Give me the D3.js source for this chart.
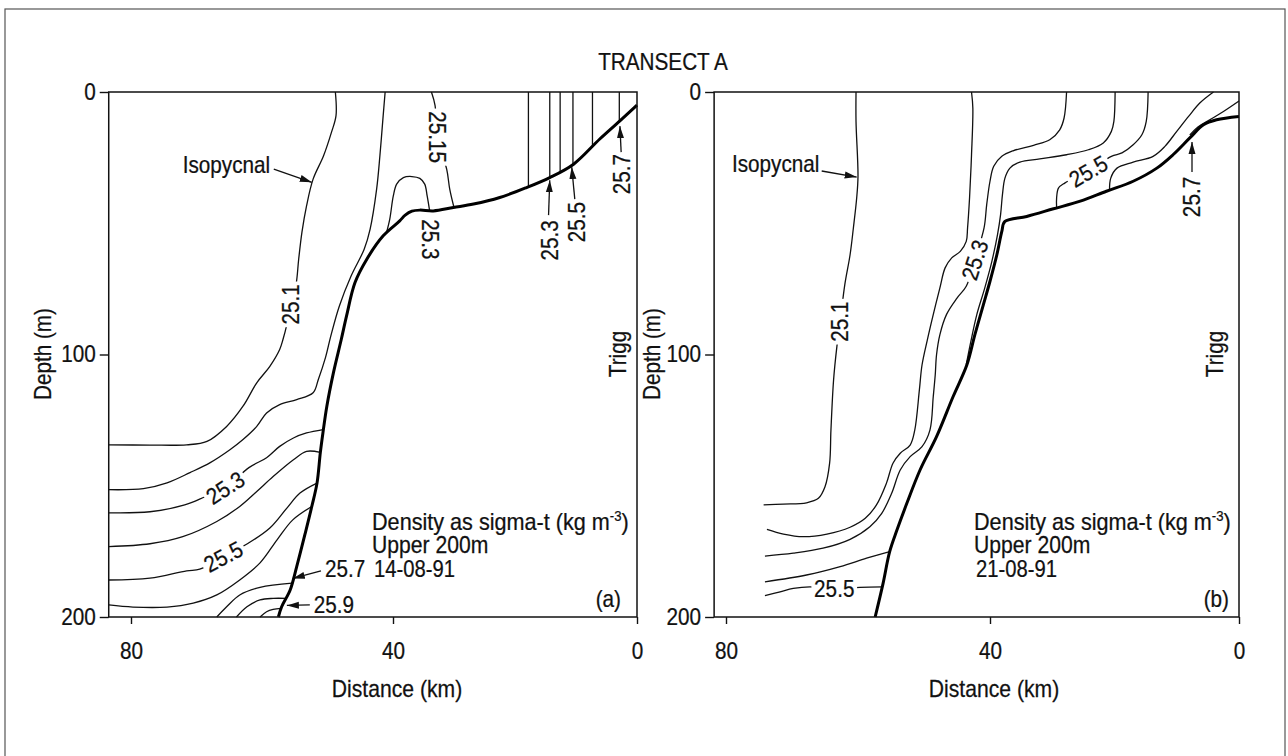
<!DOCTYPE html>
<html>
<head>
<meta charset="utf-8">
<script src="https://cdn.jsdelivr.net/npm/d3@7"></script>
<style>
  body { margin: 0; background: #fff; }
  svg text { font-family: "Liberation Sans", Arial, Helvetica, sans-serif; font-size: 23px; fill: #111; stroke: #111; stroke-width: 0.25px; }
</style>
</head>
<body>
<svg id="chart" width="1288" height="756"></svg>
<script>
// axis ticks
const kmTicks = [80, 40, 0];
const depthTicks = [0, 100, 200];

// ---- panel (a) 14-08-91 : [distance km, depth m] ----
const bathyA = [[0,5],[2.8,11],[6.1,17.9],[10.4,27.5],[14.3,32.6],[18.1,36.4],[22.5,40.2],[26.8,42.7],[30.1,44],[33.4,45.3],[35.6,45],[36.9,45.4],[38,46.9],[38.9,49.1],[41.5,54.8],[44,63.7],[45.8,72.6],[47.1,85.4],[47.9,94.3],[49.1,107],[50.1,119.7],[50.7,129.9],[51.1,137.5],[51.6,149],[52.4,157.9],[53.4,168.1],[54.7,180.8],[55.7,189.7],[57,196.1],[57.5,200]];
const isoA251 = [[48.8,0],[48.7,9],[49.4,15.4],[50.6,24.3],[52.2,33.2],[53.2,43.4],[53.9,53.4],[54.4,63.7],[54.8,73.3],[55.6,80.9],[56.2,88.5],[56.8,94.3],[57.3,98.1],[58.8,104.5],[60.8,110.8],[62.9,119.7],[65.4,127.4],[68.4,133.1],[71.5,134.4],[77.1,134.5],[83.4,134.4]];
const isoA252 = [[41.2,0],[41.5,9],[42,24.3],[42.5,37],[43.5,52.3],[44.4,59.9],[46.4,70.1],[48.2,81.6],[49.5,93],[50.3,101.1],[51.4,109.5],[52.2,114.6],[54.7,117.2],[57.3,119.1],[59.3,122.3],[60.8,127.4],[62.9,132.4],[64.9,136.3],[67.9,141.2],[71,145],[74.5,148.9],[78.1,151.1],[83.4,151.5]];
const isoA253 = [[83.4,160.3],[77.1,159.9],[71.8,157.3],[68.7,154.2],[65.6,150.8],[62,143.1],[59.3,139.3],[57.3,135],[55.2,131.8],[53.2,129.9],[50.65,128.6]];
const isoA254 = [[83.4,173.2],[77.1,172.1],[72.1,169.4],[66.9,163.6],[63.4,157.9],[60.8,152.2],[58.3,146.5],[55.2,140.1],[53.2,136.9],[51.1,137.3]];
const isoA255 = [[83.4,185.9],[77.1,185.2],[71.5,182.4],[69.5,181.8],[65.9,177],[62.1,171.9],[58.8,166.1],[56.2,158.5],[54.2,152.8],[51.6,149]];
const isoA256 = [[83.4,195.4],[79.7,196.2],[74.5,196.2],[70.5,194.7],[66.9,191.6],[63.4,185.9],[60.3,179.4],[57.7,170.6],[55.3,163],[52.4,157.9]];
const isoA257 = [[66.9,200],[65.4,196.1],[63.4,191.6],[60.3,188.7],[55.4,187.1]];
const isoA258 = [[63.9,200],[62.3,196.1],[60.3,193.5],[58.3,192.9],[56.35,192.9]];
const isoA259 = [[60.3,200],[59.3,198],[58.3,197.1],[57.05,196.7]];
const isoA2515 = [[33.7,0],[33.1,5.2],[32.8,17.2],[31.2,29.4],[30.7,37],[30,44]];
const isoA253bump = [[41,53.6],[40.5,48.5],[39.95,39.6],[39.4,35.1],[38.3,32.6],[36.9,32.2],[35.6,32.9],[34.8,35.1],[34.4,39.6],[34,45.2]];
// near-shore vertical isopycnals: [km, depth where they meet the bottom]
const vertA = [[17.8,36.1],[14.3,32.6],[12.6,30.4],[10.5,27.6],[7.3,20.6],[2.9,11.2]];

// ---- panel (b) 21-08-91 ----
const bathyB = [[0,9.3],[3.6,10.6],[5.7,12.5],[7.9,17.5],[10.6,23.9],[13.2,29],[17,34],[21.3,37.8],[25.5,41.6],[29.8,44.5],[34.1,47.4],[37.6,49.3],[38.1,53.1],[38.9,62],[40,72.1],[41,81],[42.3,92.5],[43.5,103.9],[45.6,116.1],[48.1,131.3],[50.6,144],[52.6,156.7],[54.1,166.9],[55.2,175.1],[56.2,187.2],[57.4,200]];
const isoB251 = [[60.3,0],[60.3,11.2],[60,32.1],[60.2,40.4],[60.7,51.8],[61.2,62],[62,73.4],[62.7,87.5],[63.2,97],[63.7,109.7],[64.1,128.8],[64.3,141.4],[65,150.4],[66,154.8],[67.8,156.5],[71.3,157],[74.3,157.3]];
const isoB252 = [[42.8,0],[42.6,6.1],[42.8,23.9],[43.1,40.4],[43.4,51.8],[43.6,56.9],[44.5,60.7],[45.8,63.2],[46.8,67],[47.6,74.7],[48.6,84.8],[49.5,94.5],[50.3,104],[50.7,113.5],[51.4,128.8],[52.1,134.5],[53.6,137.6],[54.7,141.4],[55.7,149.1],[57.2,157.3],[58.9,162.4],[61.2,165.8],[64.7,168.4],[68.3,169.4],[71.3,168.4],[73.8,166.6]];
const isoB253 = [[27.7,0],[28.1,9.9],[28.8,14.4],[30.4,18.2],[33,20.3],[36.3,22.4],[38.1,24.5],[39.4,28.3],[40,34],[40.5,42.9],[40.9,51.8],[42.3,64],[43.6,74],[45,78.5],[46.6,84.8],[47.6,92.5],[48.1,100.1],[48.3,107.8],[48.6,116.1],[49.1,128.8],[50.3,135.1],[52.1,138.9],[53.6,144],[54.9,152.9],[56.4,160.5],[58.2,165.6],[61.2,170.4],[65.3,173.8],[69.8,175.7],[74.1,176.8]];
const isoB254 = [[19.9,0],[20.1,11.2],[20.5,15],[21.8,19.4],[24.2,22],[27.7,23.9],[32,25.5],[35.2,26.7],[36.8,29],[37.6,32.8],[38,39.1],[38.3,46.7],[38.8,54.4],[39.7,64.5],[40.8,74.7],[42,84.8],[42.9,95],[43.6,103.9]];
const isoB255 = [[14.6,0],[14.9,11.2],[15.6,16.3],[17,20.1],[18.8,23.2],[20.5,24.5],[24.2,30.2],[28,34.7],[29,36.6],[29.3,40.4],[29.3,44]];
const isoB256 = [[4.1,0],[6.3,4.2],[8.1,9.3],[10,15],[11.9,20.7],[13.8,24.5],[17,26.7],[19.6,29],[20.6,32.8],[20.8,37.3]];
const isoB257 = [[0,3.4],[2.5,7.4],[4.7,10.6],[6.6,13.3],[7.9,16.4]];
const isoB254deep = [[55.2,175.1],[58.7,177.6],[62.7,180.8],[67.8,184],[74.1,186.6]];
const isoB255deep = [[56.3,188.5],[59.7,188.7],[63.6,189.3],[67.3,188.5],[69.8,189.1],[71.8,190.4],[74.1,191.9]];

// contour labels: [text, km, depth, rotation, sits on the line]
const labelsA = [["25.1",55.6,80.9,-90,true],["25.15",32.8,17.2,90,true],["25.3",65.6,150.8,-33,true],["25.5",65.9,177,-28,true],
                 ["25.3",33.9,56.1,90,false],["25.3",14.3,56.5,-90,false],["25.5",9.8,49.6,-90,false],["25.7",2.5,31.3,-90,false]];
const labelsB = [["25.1",62.7,87.5,-90,true],["25.3",42.3,64,-72,true],["25.5",24.2,30.2,-30,true],["25.5",63.6,189.3,0,true],["25.7",7.55,40,-90,false]];
// left-aligned notes: [text, km, depth]
const notesA = [["Isopycnal",72.1,27.9],["25.7",50.4,181.7],["25.9",52.1,195.4]];
const notesB = [["Isopycnal",79.1,27.4]];
// arrows: [from, to]
const arrowsA = [[[58.2,29.4],[52.4,34.4]],[[14.5,46.9],[14.3,33.6]],[[10.2,40.8],[10.7,28.6]],[[2.6,22.9],[2.8,13]],[[51,182.4],[55.3,185.3]],[[52.7,195.4],[56.2,195.6]]];
const arrowsB = [[[65.5,30.1],[60.2,32.4]],[[7.55,30.5],[7.55,19]]];

const NARROW = 0.9; // the printed typeface is a little condensed

const svg = d3.select('#chart');

svg.append('defs').append('marker')
    .attr('id', 'head')
    .attr('viewBox', '0 0 12 10')
    .attr('refX', 12).attr('refY', 5)
    .attr('markerWidth', 12).attr('markerHeight', 10)
    .attr('markerUnits', 'userSpaceOnUse')
    .attr('orient', 'auto')
    .append('path').attr('d', 'M0,1.5L12,5L0,8.5Z').attr('fill', '#111');

// text placed at (x,y), optionally rotated, squeezed horizontally
function addText(parent, x, y, str, rot, anchor, squeeze) {
    return parent.append('text')
        .attr('transform', `translate(${x},${y}) rotate(${rot || 0}) scale(${squeeze || NARROW},1)`)
        .attr('text-anchor', anchor || 'start')
        .text(str);
}

// scanned page border
svg.append('rect').attr('x', 5).attr('y', 9).attr('width', 1280).attr('height', 800)
    .attr('fill', 'none').attr('stroke', '#555').attr('stroke-width', 1.2);

addText(svg, 663, 70, 'TRANSECT A', 0, 'middle');

function drawPanel(p) {
    const x = d3.scaleLinear().domain(kmTicks).range(p.xRange);
    const y = d3.scaleLinear().domain([0, 200]).range([92, 617]);
    const g = svg.append('g');
    const line = d3.line().x(d => x(d[0])).y(d => y(d[1])).curve(d3.curveCatmullRom.alpha(0.5));

    // isopycnals
    g.selectAll('path.iso').data(p.isos).join('path')
        .attr('class', 'iso')
        .attr('d', line)
        .attr('fill', 'none').attr('stroke', '#111').attr('stroke-width', 1.3);

    if (p.verticals) {
        g.selectAll('line.vert').data(p.verticals).join('line')
            .attr('class', 'vert')
            .attr('x1', d => x(d[0])).attr('x2', d => x(d[0]))
            .attr('y1', y(0)).attr('y2', d => y(d[1]))
            .attr('stroke', '#111').attr('stroke-width', 1.3);
    }

    // labels (white box cuts the line where the label sits on it)
    p.labels.forEach(l => {
        const lg = g.append('g').attr('transform', `translate(${x(l[1])},${y(l[2])}) rotate(${l[3]}) scale(${NARROW},1)`);
        const bg = lg.append('rect');
        const t = lg.append('text').attr('text-anchor', 'middle').attr('dy', '0.35em').text(l[0]);
        if (l[4]) {
            const b = t.node().getBBox();
            bg.attr('x', b.x - 3).attr('y', b.y + 2).attr('width', b.width + 6).attr('height', b.height - 4).attr('fill', '#fff');
        } else {
            bg.remove();
        }
    });

    p.notes.forEach(n => addText(g, x(n[1]), y(n[2]), n[0]).attr('dy', '0.35em'));

    g.selectAll('line.arrow').data(p.arrows).join('line')
        .attr('class', 'arrow')
        .attr('x1', d => x(d[0][0])).attr('y1', d => y(d[0][1]))
        .attr('x2', d => x(d[1][0])).attr('y2', d => y(d[1][1]))
        .attr('stroke', '#111').attr('stroke-width', 1.3)
        .attr('marker-end', 'url(#head)');

    // sea floor
    g.append('path').datum(p.bathy)
        .attr('d', line)
        .attr('fill', 'none').attr('stroke', '#000').attr('stroke-width', 3)
        .attr('stroke-linejoin', 'round');

    // frame
    g.append('rect')
        .attr('x', x(p.leftKm)).attr('y', y(0))
        .attr('width', x(0) - x(p.leftKm)).attr('height', y(200) - y(0))
        .attr('fill', 'none').attr('stroke', '#111').attr('stroke-width', 1.5);

    const yAxis = g.append('g')
        .attr('transform', `translate(${x(p.leftKm)},0)`)
        .call(d3.axisLeft(y).tickValues(depthTicks).tickSize(9).tickPadding(4));
    const xAxis = g.append('g')
        .attr('transform', `translate(0,${y(200)})`)
        .call(d3.axisBottom(x).tickValues(kmTicks).tickSize(7).tickPadding(19));
    [yAxis, xAxis].forEach(a => {
        a.select('.domain').remove();
        a.selectAll('line').attr('stroke', '#111').attr('stroke-width', 1.4);
        a.attr('font-size', null).attr('font-family', null);
        a.selectAll('text')
            .attr('x', function () { return (+this.getAttribute('x') || 0) / NARROW; })
            .attr('transform', `scale(${NARROW},1)`);
    });

    addText(g, x(40) + 4, 697, 'Distance (km)', 0, 'middle', 0.92);
    addText(g, p.depthX, 354, 'Depth (m)', -90, 'middle');
    addText(g, p.triggX, 354, 'Trigg', -90, 'middle');

    // legend block
    const t1 = addText(g, p.infoX, 530, 'Density as sigma-t (kg m', 0, 'start', 0.94);
    t1.append('tspan').attr('font-size', '14px').attr('dy', -9).text('-3');
    t1.append('tspan').attr('dy', 9).text(')');
    addText(g, p.infoX, 553, 'Upper 200m', 0, 'start', 0.92);
    addText(g, p.infoX + 2, 577, p.date, 0, 'start', 0.88);
    addText(g, p.tagX, 607, p.tag, 0, 'end');
}

drawPanel({
    xRange: [131, 393, 637], leftKm: 83.4, bathy: bathyA,
    isos: [isoA251, isoA252, isoA253, isoA254, isoA255, isoA256, isoA257, isoA258, isoA259, isoA2515, isoA253bump],
    verticals: vertA, labels: labelsA, notes: notesA, arrows: arrowsA,
    depthX: 51, triggX: 626, infoX: 372, date: '14-08-91', tag: '(a)', tagX: 621
});
drawPanel({
    xRange: [726, 990, 1239], leftKm: 81.8, bathy: bathyB,
    isos: [isoB251, isoB252, isoB253, isoB254, isoB255, isoB256, isoB257, isoB254deep, isoB255deep],
    verticals: null, labels: labelsB, notes: notesB, arrows: arrowsB,
    depthX: 660, triggX: 1223, infoX: 974, date: '21-08-91', tag: '(b)', tagX: 1229
});
</script>
</body>
</html>
